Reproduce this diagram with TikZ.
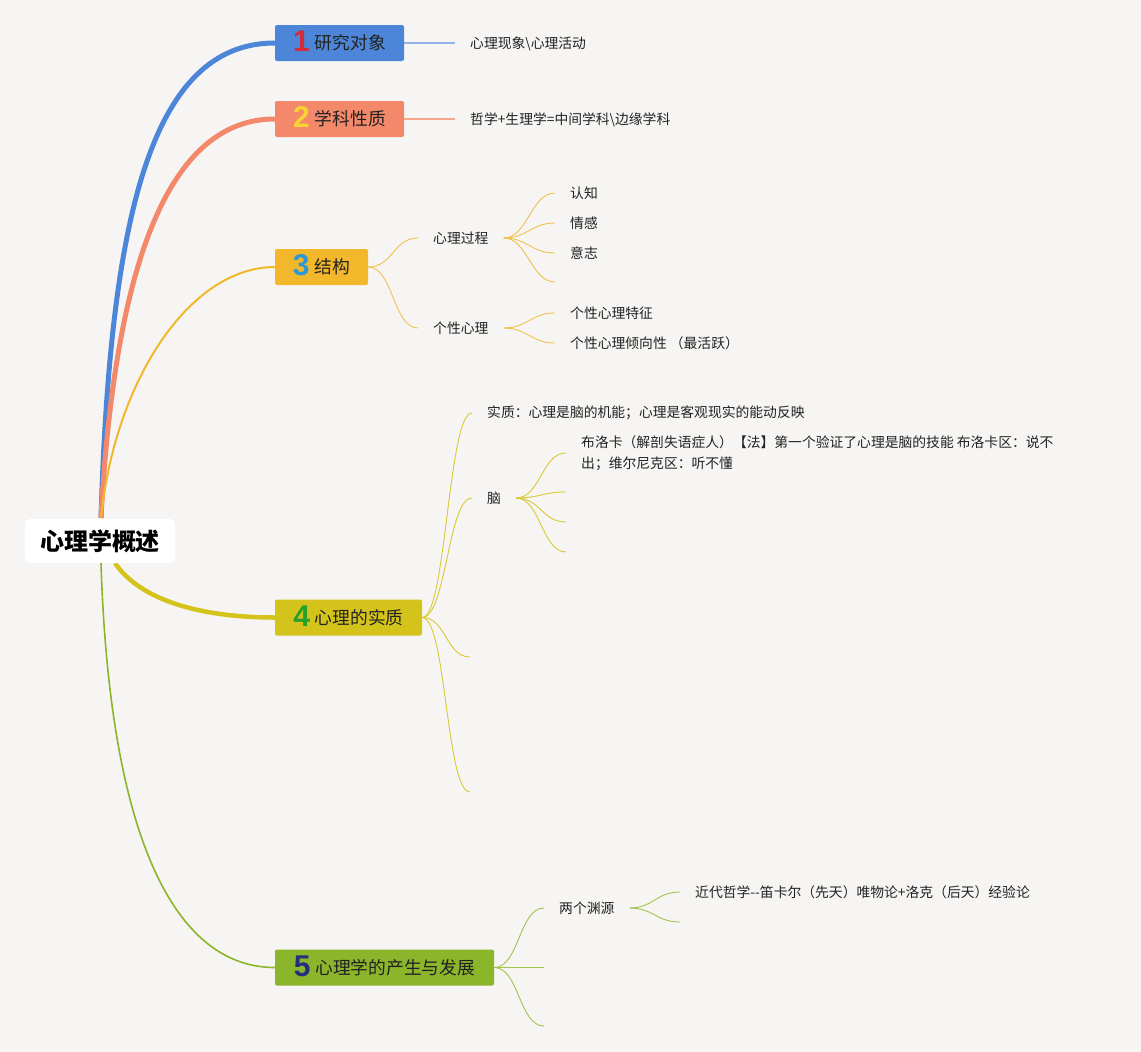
\documentclass[tikz,border=0pt]{standalone}
\usepackage{fontspec}
\setmainfont{Noto Sans CJK SC}
\newfontfamily\numfont{Liberation Sans}
\usetikzlibrary{backgrounds}
\definecolor{bgc}{HTML}{F6F5F3}
\definecolor{c1}{HTML}{4D86D8}
\definecolor{c1l}{HTML}{93B3E6}
\definecolor{c2}{HTML}{F4886A}
\definecolor{c2l}{HTML}{F5A78C}
\definecolor{c3}{HTML}{F2B72A}
\definecolor{c3l}{HTML}{F0C24C}
\definecolor{c4}{HTML}{D3C31B}
\definecolor{c4l}{HTML}{D9C935}
\definecolor{c5}{HTML}{8BB52B}
\definecolor{c5l}{HTML}{A2C44E}
\definecolor{n1}{HTML}{D42A3A}
\definecolor{n2}{HTML}{F7D234}
\definecolor{n3}{HTML}{2B98D8}
\definecolor{n4}{HTML}{27A02B}
\definecolor{n5}{HTML}{232E7E}
\definecolor{txt}{HTML}{222222}
\newcommand\bignum[2]{\raisebox{-2pt}{\numfont\fontsize{30}{30}\selectfont\bfseries\color{#1}#2}\hspace{5pt}}
\begin{document}
\begin{tikzpicture}[x=1pt,y=-1pt,
  root/.style={fill=white, rounded corners=5pt, minimum width=150pt, minimum height=44pt, inner sep=0pt, font=\fontsize{24}{26}\selectfont\bfseries, text=black},
  box/.style={rectangle, rounded corners=2pt, minimum height=36pt, inner sep=0pt, text height=16pt, text depth=2.6pt, font=\fontsize{17.75}{20}\selectfont, text=txt},
  leaf/.style={anchor=west, inner xsep=15pt, inner ysep=2pt, font=\fontsize{13.8}{21}\selectfont, align=left, text=txt},
  sub/.style={line width=0.9pt},
]
\useasboundingbox (0,0) rectangle (1141,1052);

% boxes
\node[root] (root) at (100,541) {心理学概述};
\node[box, fill=c1, minimum width=129pt] (b1) at (339.5,43) {\bignum{n1}{1}研究对象};
\node[box, fill=c2, minimum width=129pt] (b2) at (339.5,119) {\bignum{n2}{2}学科性质};
\node[box, fill=c3, minimum width=93pt] (b3) at (321.5,267) {\bignum{n3}{3}结构};
\node[box, fill=c4, minimum width=147pt] (b4) at (348.5,617.5) {\bignum{n4}{4}心理的实质};
\node[box, fill=c5, minimum width=219pt] (b5) at (384.5,967.5) {\bignum{n5}{5}心理学的产生与发展};

% root anchors
\coordinate (r0) at (101,518);
\coordinate (r4) at (115,563);
\coordinate (r5) at (101,563);

\begin{scope}[on background layer]
\fill[bgc] (0,0) rectangle (1141,1052);
% main branches
\draw[c1, line width=5pt] (r0) .. controls (110,220) and (150,43) .. (b1.west);
\draw[c2, line width=5pt] (r0) .. controls (115,260) and (170,119) .. (b2.west);
\draw[c3, line width=2pt] (r0) .. controls (115,380) and (190,267) .. (b3.west);
\draw[c4, line width=4.5pt] (r4) .. controls (140,600) and (200,617.5) .. (b4.west);
\draw[c5, line width=1.6pt] (r5) .. controls (110,850) and (180,967.5) .. (b5.west);
\end{scope}

% branch 1, 2
\node[leaf] (s1) at (455,44) {心理现象\textbackslash 心理活动};
\node[leaf] (s2) at (455,120) {哲学+生理学=中间学科\textbackslash 边缘学科};
\draw[c1l, line width=1.2pt] (b1.east) -- (b1.east -| s1.west);
\draw[c2l, line width=1.2pt] (b2.east) -- (b2.east -| s2.west);

% branch 3
\node[leaf] (p1) at (418,238) {心理过程};
\node[leaf] (p2) at (418,328) {个性心理};
\node[leaf] (q1) at (555,193) {认知};
\node[leaf] (q2) at (555,223) {情感};
\node[leaf] (q3) at (555,253) {意志};
\coordinate (q4) at (555,282);
\node[leaf] (r1) at (555,313) {个性心理特征};
\node[leaf] (r2) at (555,343) {个性心理倾向性 （最活跃）};
\begin{scope}[c3l, sub]
\foreach \t in {p1,p2}
  \draw (b3.east) .. controls +(25,0) and +(-25,0) .. (\t.west);
\foreach \t in {q1,q2,q3}
  \draw (p1.east) .. controls +(24,0) and +(-24,0) .. (\t.west);
\draw (p1.east) .. controls +(24,0) and +(-24,0) .. (q4);
\foreach \t in {r1,r2}
  \draw (p2.east) .. controls +(24,0) and +(-24,0) .. (\t.west);
\end{scope}

% branch 4
\node[leaf] (e1) at (472,413) {实质：心理是脑的机能；心理是客观现实的能动反映};
\node[leaf] (e2) at (472,498) {脑};
\coordinate (e3) at (470,657);
\coordinate (e4) at (470,792);
\node[leaf] (f1) at (566,453) {布洛卡（解剖失语症人）【法】第一个验证了心理是脑的技能 布洛卡区：说不\\出；维尔尼克区：听不懂};
\coordinate (f2) at (566,492);
\coordinate (f3) at (566,522);
\coordinate (f4) at (566,552);
\begin{scope}[c4l, sub]
\foreach \t in {e1,e2}
  \draw (b4.east) .. controls +(24,0) and +(-24,0) .. (\t.west);
\foreach \t in {e3,e4}
  \draw (b4.east) .. controls +(24,0) and +(-24,0) .. (\t);
\draw (e2.east) .. controls +(24,0) and +(-24,0) .. (f1.west);
\foreach \t in {f2,f3,f4}
  \draw (e2.east) .. controls +(24,0) and +(-24,0) .. (\t);
\end{scope}

% branch 5
\node[leaf] (g1) at (544,908) {两个渊源};
\coordinate (g2) at (544,967.5);
\coordinate (g3) at (544,1026);
\node[leaf] (h1) at (680,892) {近代哲学-{}-笛卡尔（先天）唯物论+洛克（后天）经验论};
\coordinate (h2) at (680,922);
\begin{scope}[c5l, sub]
\draw (b5.east) .. controls +(25,0) and +(-25,0) .. (g1.west);
\draw (b5.east) -- (g2);
\draw (b5.east) .. controls +(25,0) and +(-25,0) .. (g3);
\draw (g1.east) .. controls +(24,0) and +(-24,0) .. (h1.west);
\draw (g1.east) .. controls +(24,0) and +(-24,0) .. (h2);
\end{scope}
\end{tikzpicture}
\end{document}
